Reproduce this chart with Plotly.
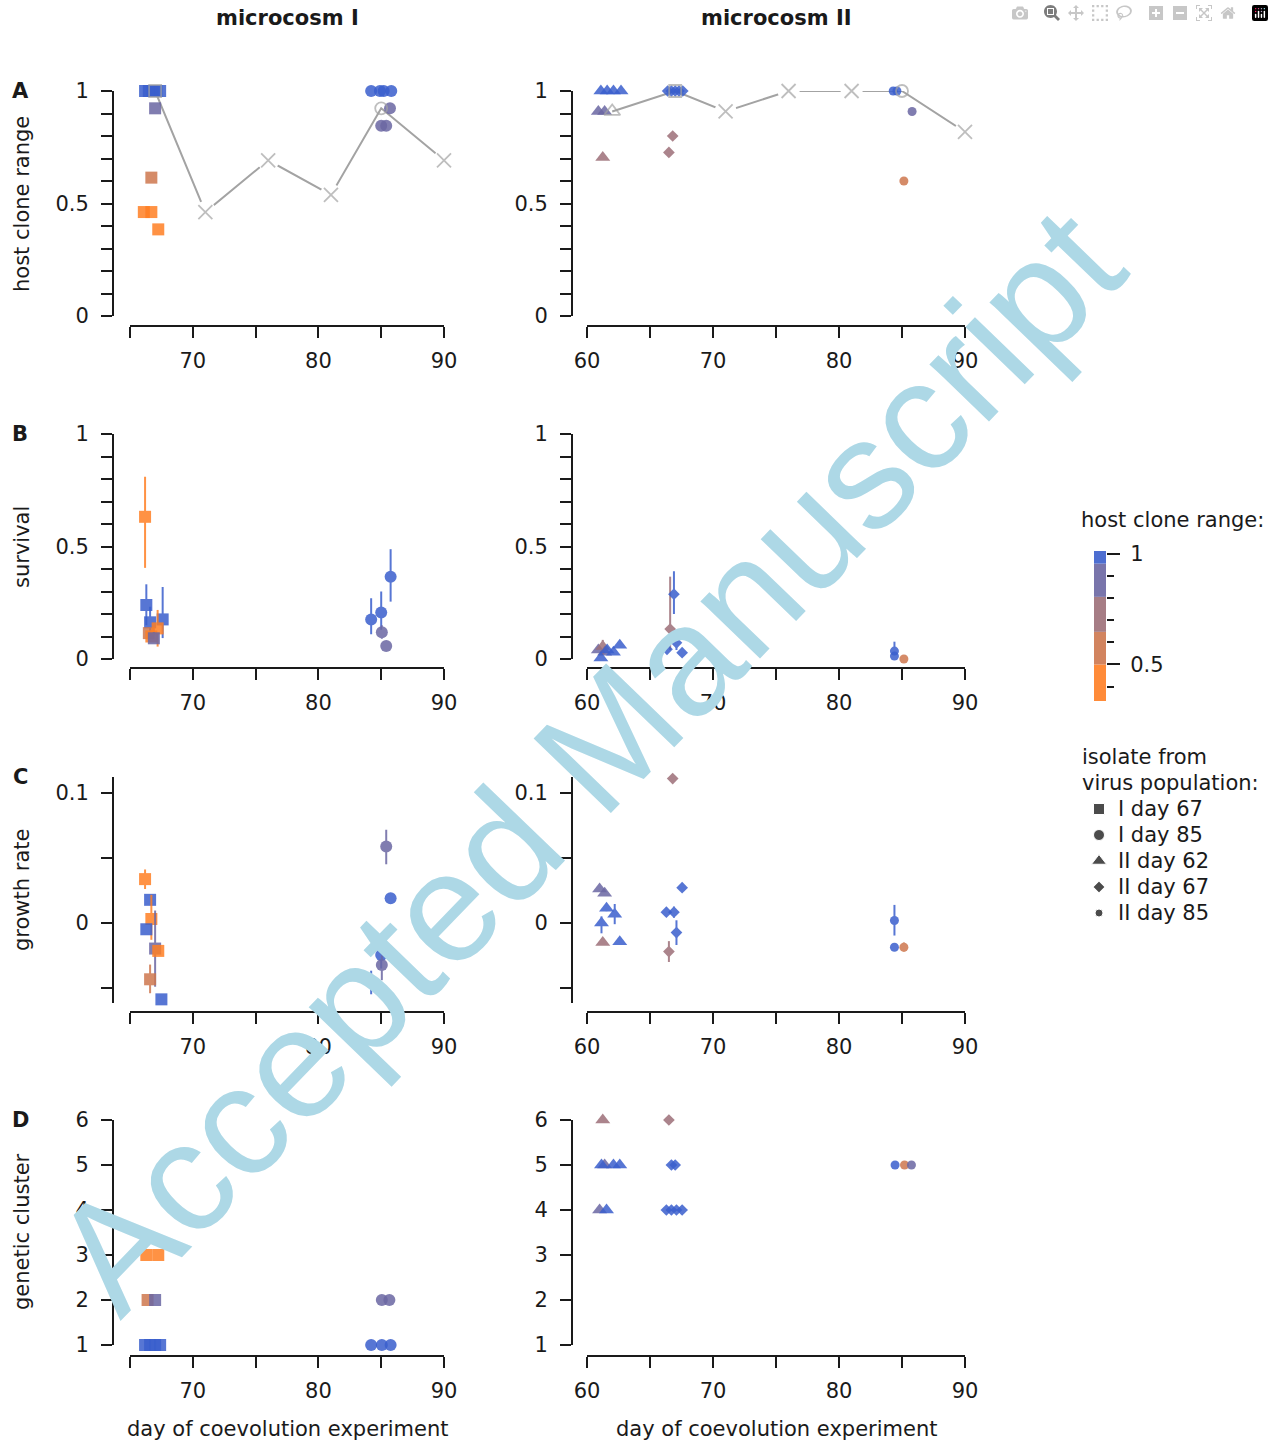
import plotly.graph_objects as go

# ---------------- data ----------------
HR_BREAKS = [0.335, 0.5, 0.647, 0.805, 0.955, 1.012]
HR_COLORS = ["#FF7F24", "#CE774E", "#9D6F78", "#6B67A3", "#3A5FCD"]
HR_TICKS = [0.5, 1.0]

X_TICKS_I = [65, 70, 75, 80, 85, 90]
X_LABELS_I = ["", "70", "", "80", "", "90"]
X_TICKS_II = [60, 65, 70, 75, 80, 85, 90]
X_LABELS_II = ["60", "", "70", "", "80", "", "90"]
Y_TICKS_FRAC = [0, 0.1, 0.2, 0.3, 0.4, 0.5, 0.6, 0.7, 0.8, 0.9, 1.0]
Y_LABELS_FRAC = ["0", "", "", "", "", "0.5", "", "", "", "", "1"]
Y_TICKS_GROWTH = [-0.05, 0, 0.05, 0.1]
Y_LABELS_GROWTH = ["", "0", "", "0.1"]
Y_TICKS_CLUSTER = [1, 2, 3, 4, 5, 6]

# microcosm I, panel A: (day, host clone range)
RANGE_I_D67 = [(66.2, 1.0), (66.5, 1.0), (66.8, 1.0), (67.1, 1.0), (67.4, 1.0),
               (67.0, 0.923), (66.7, 0.615), (66.1, 0.462), (66.7, 0.462), (67.25, 0.385)]
RANGE_I_D85 = [(84.2, 1.0), (84.9, 1.0), (85.2, 1.0), (85.8, 1.0),
               (85.7, 0.923), (85.0, 0.846), (85.4, 0.846)]
MEAN_I_DAY = [67, 71, 76, 81, 85, 90]
MEAN_I_RANGE = [1.0, 0.462, 0.692, 0.538, 0.923, 0.692]
MEAN_I_SYMBOL = ["square-open", "x-thin-open", "x-thin-open", "x-thin-open", "circle-open", "x-thin-open"]

# microcosm I, panel B: (day, survival, low, high, host range)
SURV_I_D67 = [(66.2, 0.632, 0.405, 0.81, 0.462), (66.3, 0.24, 0.15, 0.332, 1.0),
              (66.6, 0.163, 0.115, 0.232, 1.0), (67.6, 0.176, 0.093, 0.32, 1.0),
              (66.5, 0.115, 0.085, 0.14, 0.615), (66.7, 0.10, 0.08, 0.13, 0.462),
              (67.2, 0.136, 0.055, 0.218, 0.385), (66.9, 0.092, 0.07, 0.12, 0.923)]
SURV_I_D85 = [(84.2, 0.176, 0.11, 0.27, 1.0), (85.0, 0.207, 0.13, 0.30, 1.0),
              (85.05, 0.119, 0.09, 0.15, 0.846), (85.4, 0.058, 0.045, 0.07, 0.846),
              (85.75, 0.366, 0.255, 0.488, 1.0)]

# microcosm I, panel C: (day, growth rate, low, high, host range)
GROWTH_I_D67 = [(66.2, 0.0336, 0.026, 0.041, 0.462), (66.6, 0.0177, 0.015, 0.021, 1.0),
                (66.7, 0.003, -0.013, 0.0215, 0.462), (66.3, -0.0049, -0.007, -0.002, 1.0),
                (67.0, -0.0197, -0.049, 0.0095, 0.923), (67.25, -0.0215, -0.024, -0.019, 0.385),
                (66.6, -0.0433, -0.054, -0.032, 0.615), (67.5, -0.0587, -0.0595, -0.058, 1.0)]
GROWTH_I_D85 = [(85.4, 0.0587, 0.045, 0.0715, 0.846), (85.75, 0.019, 0.016, 0.022, 1.0),
                (85.0, -0.0246, -0.035, -0.0115, 1.0), (85.05, -0.0323, -0.044, -0.025, 0.846),
                (84.2, -0.0456, -0.0548, -0.0367, 1.0)]

# microcosm I, panel D: (day, genetic cluster, host range)
CLUSTER_I_D67 = [(66.3, 3, 0.462), (67.25, 3, 0.462), (66.4, 2, 0.615), (67.0, 2, 0.923),
                 (66.2, 1, 1.0), (66.6, 1, 1.0), (67.0, 1, 1.0), (67.4, 1, 1.0)]
CLUSTER_I_D85 = [(85.05, 2, 0.846), (85.65, 2, 0.846), (84.2, 1, 1.0), (85.05, 1, 1.0), (85.75, 1, 1.0)]

# microcosm II, panel A
RANGE_II_D62 = [(61.1, 1.0), (61.6, 1.0), (62.1, 1.0), (62.7, 1.0),
                (60.9, 0.909), (61.4, 0.909), (61.25, 0.705)]
RANGE_II_D67 = [(66.4, 1.0), (66.7, 1.0), (67.0, 1.0), (67.3, 1.0), (67.6, 1.0),
                (66.8, 0.80), (66.5, 0.727)]
RANGE_II_D85 = [(84.3, 1.0), (84.6, 1.0), (85.15, 0.60), (85.8, 0.909)]
MEAN_II_DAY = [62, 67, 71, 76, 81, 85, 90]
MEAN_II_RANGE = [0.909, 1.0, 0.909, 1.0, 1.0, 1.0, 0.818]
MEAN_II_SYMBOL = ["triangle-up-open", "square-open", "x-thin-open", "x-thin-open",
                  "x-thin-open", "circle-open", "x-thin-open"]

# microcosm II, panel B
SURV_II_D62 = [(60.9, 0.04, 0.03, 0.05, 0.909), (61.4, 0.03, 0.02, 0.04, 0.909),
               (61.25, 0.055, 0.02, 0.085, 0.705),
               (61.1, 0.004, 0.0, 0.012, 1.0), (61.6, 0.04, 0.03, 0.05, 1.0),
               (62.1, 0.03, 0.02, 0.04, 1.0), (62.6, 0.061, 0.05, 0.07, 1.0)]
SURV_II_D67 = [(66.6, 0.133, 0.04, 0.366, 0.727), (66.9, 0.288, 0.2, 0.39, 1.0),
               (66.35, 0.043, 0.035, 0.05, 1.0), (67.1, 0.072, 0.04, 0.13, 1.0),
               (67.55, 0.028, 0.02, 0.035, 1.0)]
SURV_II_D85 = [(84.4, 0.035, 0.02, 0.077, 1.0), (84.4, 0.013, 0.008, 0.018, 1.0),
               (85.15, 0.0, 0.0, 0.005, 0.60)]

# microcosm II, panel C
GROWTH_II_D62 = [(61.0, 0.026, 0.024, 0.028, 0.909), (61.4, 0.0228, 0.021, 0.025, 0.909),
                 (61.55, 0.0113, 0.009, 0.0135, 1.0), (62.2, 0.0067, -0.001, 0.0145, 1.0),
                 (61.15, 0.0, -0.008, 0.005, 1.0), (62.6, -0.0144, -0.016, -0.013, 1.0),
                 (61.25, -0.015, -0.017, -0.013, 0.705)]
GROWTH_II_D67 = [(66.8, 0.1108, 0.109, 0.112, 0.80), (67.55, 0.027, 0.025, 0.029, 1.0),
                 (66.3, 0.0082, 0.007, 0.0095, 1.0), (66.9, 0.0082, 0.004, 0.0125, 1.0),
                 (67.1, -0.0074, -0.017, 0.002, 1.0), (66.5, -0.022, -0.03, -0.014, 0.727)]
GROWTH_II_D85 = [(84.4, 0.0018, -0.0097, 0.0138, 1.0), (84.4, -0.0187, -0.02, -0.0175, 1.0),
                 (85.15, -0.0187, -0.022, -0.015, 0.60)]

# microcosm II, panel D
CLUSTER_II_D62 = [(61.25, 6, 0.705), (61.4, 5, 0.909), (61.15, 5, 1.0), (62.1, 5, 1.0), (62.6, 5, 1.0),
                  (61.0, 4, 0.909), (61.55, 4, 1.0)]
CLUSTER_II_D67 = [(66.5, 6, 0.727), (66.7, 5, 1.0), (67.0, 5, 1.0),
                  (66.3, 4, 1.0), (66.7, 4, 1.0), (67.1, 4, 1.0), (67.55, 4, 1.0)]
CLUSTER_II_D85 = [(84.45, 5, 1.0), (85.2, 5, 0.60), (85.75, 5, 0.909)]

LEGEND_LABELS = ["I day 67", "I day 85", "II day 62", "II day 67", "II day 85"]

# ---------------- styling / layout ----------------
W, H = 1274, 1448
FONT = "DejaVu Sans"
FS = 21
INK = "#1a1a1a"
GREY = "#A3A3A3"
OPACITY = 0.85

SHAPES = {
    "I67": dict(symbol="square", size=12),
    "I85": dict(symbol="circle", size=12),
    "II62": dict(symbol="triangle-up", size=13),
    "II67": dict(symbol="diamond", size=9),
    "II85": dict(symbol="circle", size=9),
}


def hr_color(h):
    for i in range(len(HR_COLORS)):
        if HR_BREAKS[i] < h <= HR_BREAKS[i + 1]:
            return HR_COLORS[i]
    return HR_COLORS[-1]


def px2paper_x(p):
    return p / W


def px2paper_y(p):
    return 1 - p / H


fig = go.Figure()

# subplot index: 1 A-I, 2 A-II, 3 B-I, 4 B-II, 5 C-I, 6 C-II, 7 D-I, 8 D-II
ROWS = {"A": (91, 316, 326), "B": (434, 659, 668), "C": (777, 1003, 1012), "D": (1120, 1345, 1356)}
COLS = {"I": (130, 444, 113), "II": (587, 965, 572)}
ROW_ORDER = ["A", "B", "C", "D"]
COL_ORDER = ["I", "II"]
Y_RANGES = {"A": [0, 1], "B": [0, 1], "C": [-0.0615, 0.112], "D": [1, 6]}
Y_TICKS = {"A": (Y_TICKS_FRAC, Y_LABELS_FRAC), "B": (Y_TICKS_FRAC, Y_LABELS_FRAC),
           "C": (Y_TICKS_GROWTH, Y_LABELS_GROWTH),
           "D": (Y_TICKS_CLUSTER, [str(v) for v in Y_TICKS_CLUSTER])}
X_RANGES = {"I": [65, 90], "II": [60, 90]}
X_TICKS = {"I": (X_TICKS_I, X_LABELS_I), "II": (X_TICKS_II, X_LABELS_II)}


def idx(row, col):
    return ROW_ORDER.index(row) * 2 + COL_ORDER.index(col) + 1


def axref(row, col):
    k = idx(row, col)
    return ("x" if k == 1 else f"x{k}"), ("y" if k == 1 else f"y{k}")


tickfont = dict(family=FONT, size=FS, color=INK)
layout_axes = {}
for r in ROW_ORDER:
    y0, y1, xline = ROWS[r]
    for c in COL_ORDER:
        x0, x1, yline = COLS[c]
        k = idx(r, c)
        xn = "xaxis" if k == 1 else f"xaxis{k}"
        yn = "yaxis" if k == 1 else f"yaxis{k}"
        xt, xl = X_TICKS[c]
        yt, yl = Y_TICKS[r]
        layout_axes[xn] = dict(
            domain=[px2paper_x(x0), px2paper_x(x1)], range=X_RANGES[c],
            anchor="free", position=px2paper_y(xline),
            showline=True, linecolor=INK, linewidth=2, ticks="outside", ticklen=11,
            tickwidth=2, tickcolor=INK, tickvals=xt, ticktext=xl, showgrid=False,
            zeroline=False, tickfont=tickfont, ticklabelstandoff=5, automargin=False)
        layout_axes[yn] = dict(
            domain=[px2paper_y(y1), px2paper_y(y0)], range=Y_RANGES[r],
            anchor="free", position=px2paper_x(yline),
            showline=True, linecolor=INK, linewidth=2, ticks="outside", ticklen=11,
            tickwidth=2, tickcolor=INK, tickvals=yt, ticktext=yl, showgrid=False,
            zeroline=False, tickfont=tickfont, ticklabelstandoff=8, automargin=False)


def add_points(rows, row, col, shape, with_err):
    xa, ya = axref(row, col)
    for rec in rows:
        if with_err:
            d, v, lo, hi, h = rec
        elif row == "A":
            d, v = rec
            h = v
        else:
            d, v, h = rec
        color = hr_color(h)
        tr = dict(
            x=[d], y=[v], mode="markers", xaxis=xa, yaxis=ya, cliponaxis=False,
            showlegend=False, hoverinfo="x+y", opacity=OPACITY,
            marker=dict(symbol=SHAPES[shape]["symbol"], size=SHAPES[shape]["size"],
                        color=color, line=dict(width=0)))
        if with_err:
            tr["error_y"] = dict(type="data", symmetric=False, array=[hi - v],
                                 arrayminus=[v - lo], color=color, thickness=2, width=0)
        fig.add_trace(go.Scatter(**tr))


def add_mean(days, vals, symbols, col):
    xa, ya = axref("A", col)
    fig.add_trace(go.Scatter(x=days, y=vals, mode="lines", xaxis=xa, yaxis=ya,
                             line=dict(color=GREY, width=2), showlegend=False,
                             cliponaxis=False, hoverinfo="skip"))
    # white mask so the line breaks around each cross, as in the original
    xs = [d for d, s in zip(days, symbols) if s.startswith("x")]
    ys = [v for v, s in zip(vals, symbols) if s.startswith("x")]
    fig.add_trace(go.Scatter(x=xs, y=ys, mode="markers", xaxis=xa, yaxis=ya,
                             marker=dict(symbol="circle", size=22, color="white"),
                             showlegend=False, cliponaxis=False, hoverinfo="skip"))


def add_mean_markers(days, vals, symbols, col):
    xa, ya = axref("A", col)
    sizes = [14 if s.startswith("x") else (14 if s.startswith("triangle") else 12) for s in symbols]
    fig.add_trace(go.Scatter(x=days, y=vals, mode="markers", xaxis=xa, yaxis=ya,
                             marker=dict(symbol=symbols, size=sizes, color=GREY,
                                         line=dict(color=GREY, width=1.8)),
                             showlegend=False, cliponaxis=False, hoverinfo="x+y"))


# panel A
add_mean(MEAN_I_DAY, MEAN_I_RANGE, MEAN_I_SYMBOL, "I")
add_mean(MEAN_II_DAY, MEAN_II_RANGE, MEAN_II_SYMBOL, "II")
add_points(RANGE_I_D67, "A", "I", "I67", False)
add_points(RANGE_I_D85, "A", "I", "I85", False)
add_points(RANGE_II_D62, "A", "II", "II62", False)
add_points(RANGE_II_D67, "A", "II", "II67", False)
add_points(RANGE_II_D85, "A", "II", "II85", False)
add_mean_markers(MEAN_I_DAY, MEAN_I_RANGE, MEAN_I_SYMBOL, "I")
add_mean_markers(MEAN_II_DAY, MEAN_II_RANGE, MEAN_II_SYMBOL, "II")
# panel B
add_points(SURV_I_D67, "B", "I", "I67", True)
add_points(SURV_I_D85, "B", "I", "I85", True)
add_points(SURV_II_D62, "B", "II", "II62", True)
add_points(SURV_II_D67, "B", "II", "II67", True)
add_points(SURV_II_D85, "B", "II", "II85", True)
# panel C
add_points(GROWTH_I_D67, "C", "I", "I67", True)
add_points(GROWTH_I_D85, "C", "I", "I85", True)
add_points(GROWTH_II_D62, "C", "II", "II62", True)
add_points(GROWTH_II_D67, "C", "II", "II67", True)
add_points(GROWTH_II_D85, "C", "II", "II85", True)
# panel D
add_points(CLUSTER_I_D67, "D", "I", "I67", False)
add_points(CLUSTER_I_D85, "D", "I", "I85", False)
add_points(CLUSTER_II_D62, "D", "II", "II62", False)
add_points(CLUSTER_II_D67, "D", "II", "II67", False)
add_points(CLUSTER_II_D85, "D", "II", "II85", False)

# colour key (axis 9)
band_base = HR_BREAKS[:-1]
band_h = [HR_BREAKS[i + 1] - HR_BREAKS[i] for i in range(len(HR_COLORS))]
fig.add_trace(go.Bar(x=[0] * len(HR_COLORS), y=band_h, base=band_base, width=1,
                     marker=dict(color=HR_COLORS, line=dict(width=0)), opacity=0.9,
                     xaxis="x9", yaxis="y9", showlegend=False, hoverinfo="skip"))
layout_axes["xaxis9"] = dict(domain=[px2paper_x(1094), px2paper_x(1106)], range=[-0.5, 0.5],
                             visible=False, anchor="y9", automargin=False)
layout_axes["yaxis9"] = dict(domain=[px2paper_y(701), px2paper_y(551)],
                             range=[HR_BREAKS[0], HR_BREAKS[-1]], anchor="x9", side="right",
                             showline=False, showgrid=False, zeroline=False, automargin=False,
                             ticks="outside", ticklen=13, tickwidth=2, tickcolor=INK,
                             tickvals=HR_TICKS, ticktext=["0.5", "1"], tickfont=tickfont,
                             ticklabelstandoff=6,
                             minor=dict(ticks="outside", ticklen=7, tickwidth=2,
                                        tickcolor=INK, dtick=0.1, tick0=0))

# shape key (axis 10, pixel space of the figure)
layout_axes["xaxis10"] = dict(domain=[0, 1], range=[0, W], visible=False, anchor="y10",
                              automargin=False)
layout_axes["yaxis10"] = dict(domain=[0, 1], range=[H, 0], visible=False, anchor="x10",
                              automargin=False)
key_rows = [809, 835, 861, 887, 913]
key_sizes = [11, 11, 13, 9, 8]
key_syms = ["square", "circle", "triangle-up", "diamond", "circle"]
fig.add_trace(go.Scatter(x=[1099] * 5, y=key_rows, mode="markers", xaxis="x10", yaxis="y10",
                         marker=dict(symbol=key_syms, size=key_sizes, color="black"),
                         showlegend=False, hoverinfo="skip", cliponaxis=False))

annotations = []


def txt(text, x, y, xanchor="center", size=FS, bold=False, angle=0, yanchor="middle",
        color=INK, family=FONT):
    annotations.append(dict(
        text=f"<b>{text}</b>" if bold else text, x=px2paper_x(x), y=px2paper_y(y),
        xref="paper", yref="paper", showarrow=False, xanchor=xanchor, yanchor=yanchor,
        textangle=angle, font=dict(family=family, size=size, color=color)))


for lab, yy in zip(LEGEND_LABELS, key_rows):
    txt(lab, 1116, yy, xanchor="left")
txt("host clone range:", 1079, 520, xanchor="left")
txt("isolate from", 1080, 757, xanchor="left")
txt("virus population:", 1080, 783, xanchor="left")

txt("microcosm I", 287, 18, bold=True)
txt("microcosm II", 776, 18, bold=True)
txt("day of coevolution experiment", 287, 1429)
txt("day of coevolution experiment", 776, 1429)
for letter, yy in zip(["A", "B", "C", "D"], [91, 434, 777, 1120]):
    txt(letter, 20, yy, bold=True)
for title, yy in zip(["host clone range", "survival", "growth rate", "genetic cluster"],
                     [204, 547, 890, 1232]):
    txt(title, 22, yy, angle=-90)

# watermark
txt("Accepted Manuscript", 587, 760, size=156, angle=-46, color="#ADD8E6",
    family="Liberation Sans")

fig.update_layout(
    width=W, height=H, margin=dict(l=0, r=0, t=0, b=0, autoexpand=False),
    paper_bgcolor="white", plot_bgcolor="rgba(0,0,0,0)",
    font=dict(family=FONT, size=FS, color=INK),
    barmode="overlay", annotations=annotations, showlegend=False,
    **layout_axes)

fig.write_html("out.html", post_script="document.body.style.margin='0';document.body.style.overflow='hidden';")
